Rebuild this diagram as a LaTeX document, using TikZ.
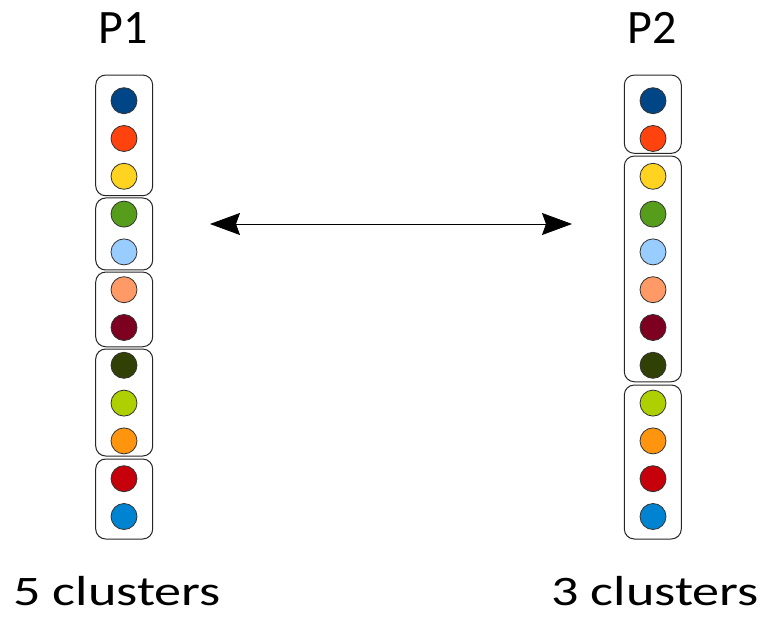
\documentclass[tikz,border=0pt]{standalone}
\usepackage{fontspec}
\setmainfont{Carlito}
\usepackage{tikz}
\usetikzlibrary{arrows.meta}
\definecolor{cA}{HTML}{004586}
\definecolor{cB}{HTML}{FF420E}
\definecolor{cC}{HTML}{FFD320}
\definecolor{cD}{HTML}{579D1C}
\definecolor{cE}{HTML}{99CCFF}
\definecolor{cF}{HTML}{FF9966}
\definecolor{cG}{HTML}{7E0021}
\definecolor{cH}{HTML}{314004}
\definecolor{cI}{HTML}{AECF00}
\definecolor{cJ}{HTML}{FF950E}
\definecolor{cK}{HTML}{C5000B}
\definecolor{cL}{HTML}{0084D1}
\tikzset{
    dot/.style={circle, draw=black!80, line width=0.8pt, minimum size=26pt,
    	inner sep=0pt}
}
\tikzset{
    cluster/.style={rectangle, rounded corners=10pt, draw=black!85,
    	line width=1pt, minimum width=57pt, inner sep=0pt}
}
\tikzset{
	title/.style={anchor=base, font=\fontsize{48}{56}\selectfont},
	count/.style={anchor=base, font=\fontsize{42}{50}\selectfont}
}
\newcommand{\wide}[1]{\scalebox{1.29}[1]{#1}}

\begin{document}
\begin{tikzpicture}[x=1pt, y=-1pt]
	\useasboundingbox (0,0) rectangle (762,617);
	% clusters of P1
	\node (p1a) [cluster, minimum height=120.7pt] at (124.2,135.4) {};
	\node (p1b) [cluster, minimum height=72pt] at (124.2,234) {};
	\node (p1c) [cluster, minimum height=74.7pt] at (124.2,309.4) {};
	\node (p1d) [cluster, minimum height=107pt] at (124.2,402.5) {};
	\node (p1e) [cluster, minimum height=80pt] at (124.2,499) {};
	% clusters of P2
	\node (p2a) [cluster, minimum height=78.3pt] at (652.8,114.2) {};
	\node (p2b) [cluster, minimum height=225.7pt] at (652.8,268.9) {};
	\node (p2c) [cluster, minimum height=154pt] at (652.8,462) {};

	\node (l1) [dot, fill=cA] at (124,100.7) {};
	\node (l2) [dot, fill=cB] at (124,138.5) {};
	\node (l3) [dot, fill=cC] at (124,176.3) {};
	\node (l4) [dot, fill=cD] at (124,214.1) {};
	\node (l5) [dot, fill=cE] at (124,251.9) {};
	\node (l6) [dot, fill=cF] at (124,289.7) {};
	\node (l7) [dot, fill=cG] at (124,327.5) {};
	\node (l8) [dot, fill=cH] at (124,365.3) {};
	\node (l9) [dot, fill=cI] at (124,403.1) {};
	\node (l10) [dot, fill=cJ] at (124,440.9) {};
	\node (l11) [dot, fill=cK] at (124,478.7) {};
	\node (l12) [dot, fill=cL] at (124,516.5) {};

	\node (r1) [dot, fill=cA] at (653,100.7) {};
	\node (r2) [dot, fill=cB] at (653,138.5) {};
	\node (r3) [dot, fill=cC] at (653,176.3) {};
	\node (r4) [dot, fill=cD] at (653,214.1) {};
	\node (r5) [dot, fill=cE] at (653,251.9) {};
	\node (r6) [dot, fill=cF] at (653,289.7) {};
	\node (r7) [dot, fill=cG] at (653,327.5) {};
	\node (r8) [dot, fill=cH] at (653,365.3) {};
	\node (r9) [dot, fill=cI] at (653,403.1) {};
	\node (r10) [dot, fill=cJ] at (653,440.9) {};
	\node (r11) [dot, fill=cK] at (653,478.7) {};
	\node (r12) [dot, fill=cL] at (653,516.5) {};

	\node (t1) [title] at (123,44) {P1};
	\node (t2) [title] at (652,44) {P2};
	\node (n1) [count] at (117,605) {\wide{5 clusters}};
	\node (n2) [count] at (655,605) {\wide{3 clusters}};

	\coordinate (al) at (210,224);
	\coordinate (ar) at (572,224);
	\draw [line width=0.8pt,
		{Stealth[length=30pt, width=22pt, inset=4pt]}-{Stealth[length=30pt, width=22pt, inset=4pt]}]
		(al) -- (ar);
\end{tikzpicture}
\end{document}
